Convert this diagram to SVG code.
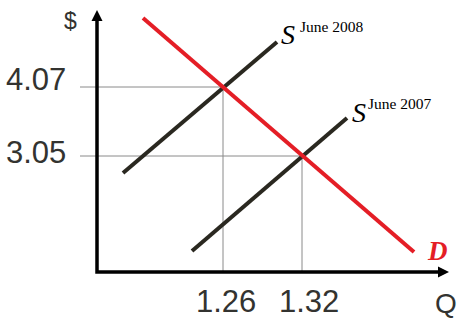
<svg xmlns="http://www.w3.org/2000/svg" width="462" height="320" viewBox="0 0 462 320">
<style>
.guide{stroke:#8a8a8a;stroke-width:1;fill:none}
.sup{stroke:#2a2820;stroke-width:4;fill:none}
.dem{stroke:#e41e26;stroke-width:4;fill:none}
.axis{stroke:#000;stroke-width:3.5;fill:none}
.num{font-family:"Liberation Sans",Arial,sans-serif;font-size:31px;fill:#333330}
.s{font-family:"Liberation Serif","Times New Roman",serif;font-style:italic;font-size:28px;fill:#000}
.sub{font-family:"Liberation Serif","Times New Roman",serif;font-size:15.5px;fill:#000}
</style>
<rect width="462" height="320" fill="#fff"/>
<g id="connectors">
<line class="guide" x1="80" y1="87" x2="223" y2="87"/>
<line class="guide" x1="80" y1="156" x2="302" y2="156"/>
<line class="guide" x1="223" y1="87" x2="223" y2="272"/>
<line class="guide" x1="302" y1="156" x2="302" y2="272"/>
<line class="sup" x1="123" y1="173" x2="277" y2="42"/>
<line class="sup" x1="192" y1="251" x2="347" y2="118"/>
<line class="dem" x1="143" y1="18" x2="414" y2="252"/>
<polyline class="axis" points="97,19 97,272 440,272"/>
<polygon points="97,10 91.5,21 102.5,21" fill="#000"/>
<polygon points="449,272 438,266.5 438,277.5" fill="#000"/>
</g>
<g id="axis-labels">
<text x="64" y="29" font-family="Liberation Sans,Arial,sans-serif" font-size="23" fill="#333330">$</text>
<text class="num" x="6" y="90">4.07</text>
<text class="num" x="6" y="163">3.05</text>
<text class="num" x="196" y="312">1.26</text>
<text class="num" x="279" y="312">1.32</text>
<text x="435" y="313" font-family="Liberation Sans,Arial,sans-serif" font-size="28" fill="#333330">Q</text>
</g>
<g id="s2008">
<text class="s" x="281" y="44">S</text>
<text class="sub" x="300" y="32">June 2008</text>
</g>
<g id="s2007">
<text class="s" x="352" y="122">S</text>
<text class="sub" x="368" y="109">June 2007</text>
</g>
<g id="d">
<text x="428" y="260" font-family="Liberation Serif,Times New Roman,serif" font-style="italic" font-weight="bold" font-size="27" fill="#e41e26">D</text>
</g>
</svg>
